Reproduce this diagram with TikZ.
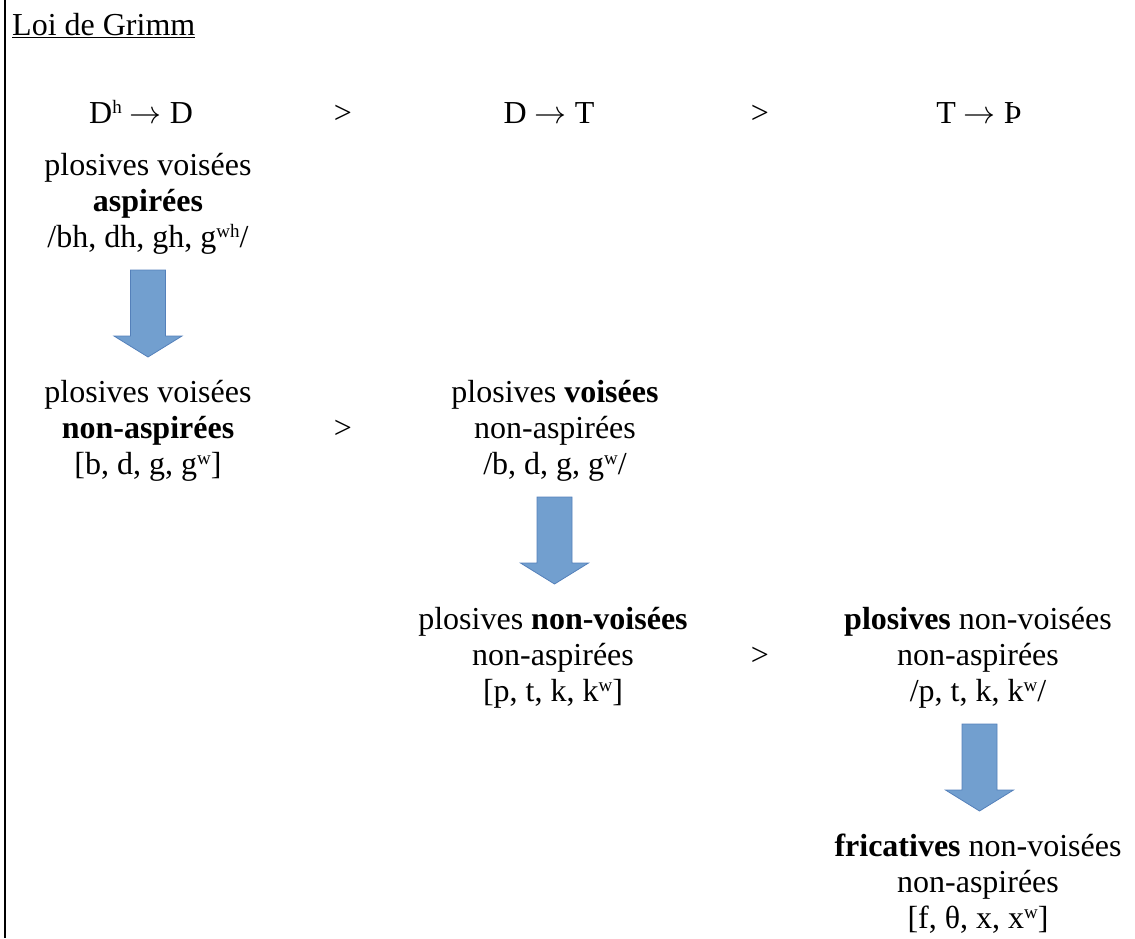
\RequirePackage{fix-cm}
\documentclass[tikz,border=0pt]{standalone}
\usepackage{fontspec}
\setmainfont{Liberation Serif}
\definecolor{arrowfill}{RGB}{114,159,207}
\definecolor{arrowline}{RGB}{84,128,186}
% small raised letters for aspiration and labialisation marks
\newcommand\supr[1]{\raisebox{9.5pt}{\fontsize{19}{19}\selectfont #1}}
\newcommand\becomes{$\rightarrow$}
\begin{document}
\begin{tikzpicture}[x=1pt,y=1pt,
  every node/.style={inner sep=0pt, font=\fontsize{32}{36}\selectfont},
  % a block sits on the baseline of its last line
  block/.style={align=center, anchor=base},
  sign/.style={anchor=base},
  downarrow/.pic={\filldraw[fill=arrowfill, draw=arrowline, line width=0.8pt]
     (-17.5,0) -- (17.5,0) -- (17.5,-66) -- (34,-66) -- (0,-87)
     -- (-34,-66) -- (-17.5,-66) -- cycle;}]
\useasboundingbox (0,0) rectangle (1135,-938);
% frame edge on the left
\draw[line width=2pt] (4.5,0) -- (4.5,-938);

% title
\node[anchor=base west] (title) at (12,-35) {\underline{Loi de Grimm}};

% top row: the three shifts
\node[sign] (s1) at (141,-123) {D\supr{h} \becomes{} D};
\node[sign] (g1) at (343,-123) {>};
\node[sign] (s2) at (549,-123) {D \becomes{} T};
\node[sign] (g2) at (760,-123) {>};
\node[sign] (s3) at (979,-123) {T \becomes{} Þ};

% step 1
\node[block] (b1) at (148,-247) {plosives voisées\\\textbf{aspirées}\\/bh, dh, gh, g\supr{wh}/};
\pic at (148,-270) {downarrow};
\node[block] (b2) at (148,-474) {plosives voisées\\\textbf{non-aspirées}\\{}[b, d, g, g\supr{w}]};
\node[sign] (g3) at (343,-438) {>};

% step 2
\node[block] (b3) at (555,-474) {plosives \textbf{voisées}\\non-aspirées\\/b, d, g, g\supr{w}/};
\pic at (554.5,-497) {downarrow};
\node[block] (b4) at (553,-701) {plosives \textbf{non-voisées}\\non-aspirées\\{}[p, t, k, k\supr{w}]};
\node[sign] (g4) at (760,-665) {>};

% step 3
\node[block] (b5) at (978,-701) {\textbf{plosives} non-voisées\\non-aspirées\\/p, t, k, k\supr{w}/};
\pic at (979.5,-724) {downarrow};
\node[block] (b6) at (978,-928) {\textbf{fricatives} non-voisées\\non-aspirées\\{}[f, θ, x, x\supr{w}]};
\end{tikzpicture}
\end{document}
